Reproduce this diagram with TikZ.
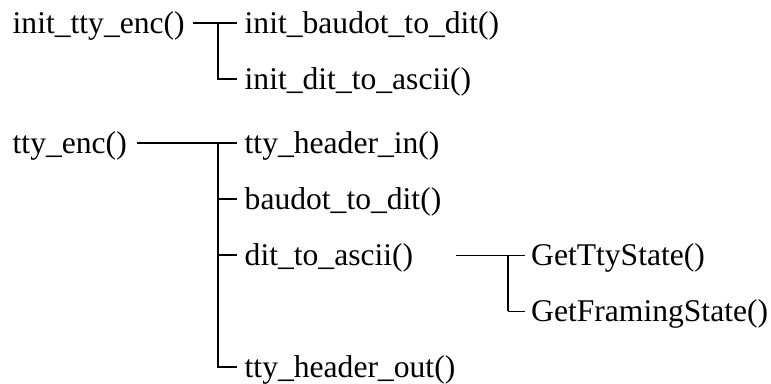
\documentclass[tikz,border=0pt]{standalone}
\usepackage{fontspec}
\setmainfont{Liberation Serif}
\tikzset{
	fn/.style={anchor=base west, inner sep=0pt, font=\fontsize{31.6}{36}\selectfont},
	call/.style={line width=2pt},
	thincall/.style={line width=1pt}
}

\begin{document}
\begin{tikzpicture}[x=1pt, y=-1pt]
			\useasboundingbox (0,0) rectangle (771,383);

			% init tree
			\node[fn] (inittty)    at (12.5,33)  {init\_tty\_enc()};
			\node[fn] (initbaudot) at (244.5,33) {init\_baudot\_to\_dit()};
			\node[fn] (initdit)    at (244.5,89) {init\_dit\_to\_ascii()};

			% tty_enc tree
			\node[fn] (ttyenc)    at (12.5,153)  {tty\_enc()};
			\node[fn] (headerin)  at (244.5,153) {tty\_header\_in()};
			\node[fn] (baudot)    at (244.5,209) {baudot\_to\_dit()};
			\node[fn] (dit)       at (244.5,265) {dit\_to\_ascii()};
			\node[fn] (headerout) at (244.5,377) {tty\_header\_out()};

			\node[fn] (getty)     at (531,265) {GetTtyState()};
			\node[fn] (getframe)  at (531,321) {GetFramingState()};

			\coordinate (bus1) at (218,23);
			\coordinate (bus2) at (218,143);
			\coordinate (bus3) at (508,255);

			\draw[call]	([xshift=8.5pt]inittty.east |- bus1) to ([xshift=-7.5pt]initbaudot.west |- bus1);
			\draw[call]	(bus1) |- ([xshift=-7.5pt, yshift=10pt]initdit.base west);

			\draw[call]	([xshift=10.5pt]ttyenc.east |- bus2) to ([xshift=-7.5pt]headerin.west |- bus2);
			\draw[call]	(bus2) |- ([xshift=-7.5pt, yshift=10pt]headerout.base west);
			\foreach \n in {baudot, dit} {
				\draw[call]	([yshift=10pt]bus2 |- \n.base west) to ([xshift=-7.5pt, yshift=10pt]\n.base west);
			}

			\draw[thincall]	([xshift=43pt]dit.east |- bus3) to ([xshift=-6.5pt]getty.west |- bus3);
			\draw[call]	(bus3) to ([yshift=10pt]bus3 |- getframe.base west);
			\draw[thincall]	([yshift=10pt]bus3 |- getframe.base west) to ([xshift=-6.5pt, yshift=10pt]getframe.base west);
		\end{tikzpicture}
\end{document}
